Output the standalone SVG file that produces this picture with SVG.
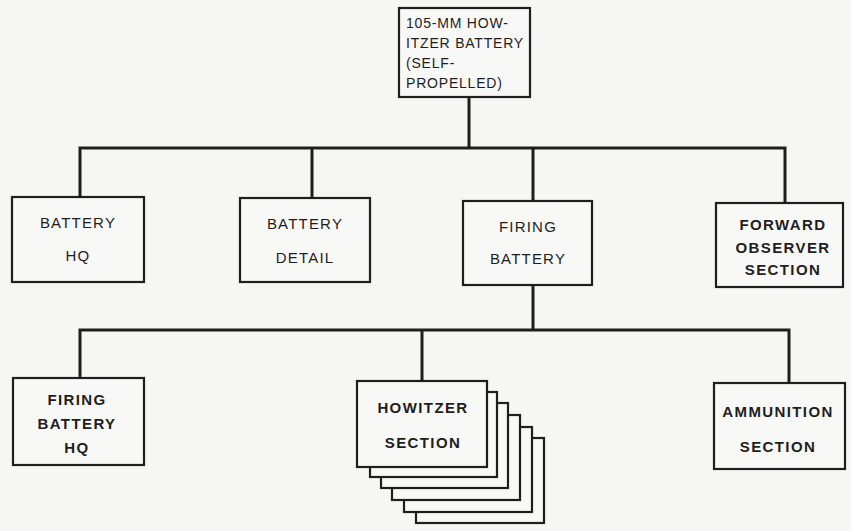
<svg xmlns="http://www.w3.org/2000/svg" width="851" height="531" viewBox="0 0 851 531">
<style>
.bg{fill:#f6f6f4}
.box{fill:#f8f8f6;stroke:#1e1e1e;stroke-width:2.2}
.ln{stroke:#1e1e1e;stroke-width:3;fill:none;stroke-linecap:square}
text{font-family:"Liberation Sans","DejaVu Sans",sans-serif;font-size:15px;fill:#1e1e1e;letter-spacing:1.2px}
.c{text-anchor:middle}
.b{font-weight:bold;letter-spacing:1.4px}
.t{font-size:14px;letter-spacing:0.8px}
</style>
<rect class="bg" x="0" y="0" width="851" height="531"/>
<g id="connectors">
<path class="ln" d="M469 97V148M80 148H785M80 148V197M312 148V198M533 148V201M785 148V203"/>
<path class="ln" d="M533 285V330M80 330H789M80 330V378M422 330V381M789 330V383"/>
</g>
<g id="battery">
<rect class="box" x="399" y="8" width="131" height="89"/>
<text class="t" x="406" y="28">105-MM HOW-</text>
<text class="t" x="406" y="48">ITZER BATTERY</text>
<text class="t" x="406" y="68">(SELF-</text>
<text class="t" x="406" y="88">PROPELLED)</text>
</g>
<g id="battery-hq">
<rect class="box" x="12" y="197" width="132" height="85"/>
<text class="c" x="78" y="228">BATTERY</text>
<text class="c" x="78" y="261">HQ</text>
</g>
<g id="battery-detail">
<rect class="box" x="240" y="198" width="130" height="84"/>
<text class="c" x="305" y="229">BATTERY</text>
<text class="c" x="305" y="263">DETAIL</text>
</g>
<g id="firing-battery">
<rect class="box" x="463" y="201" width="129" height="84"/>
<text class="c" x="528" y="232">FIRING</text>
<text class="c" x="528" y="264">BATTERY</text>
</g>
<g id="forward-observer">
<rect class="box" x="716" y="203" width="127" height="84"/>
<text class="c b" x="783" y="230">FORWARD</text>
<text class="c b" x="783" y="253">OBSERVER</text>
<text class="c b" x="783" y="275">SECTION</text>
</g>
<g id="firing-battery-hq">
<rect class="box" x="13" y="378" width="131" height="87"/>
<text class="c b" x="77" y="405">FIRING</text>
<text class="c b" x="77" y="429">BATTERY</text>
<text class="c b" x="77" y="453">HQ</text>
</g>
<g id="howitzer-section">
<rect class="box" x="416" y="438" width="128" height="85"/>
<rect class="box" x="404" y="427" width="128" height="85"/>
<rect class="box" x="392" y="415" width="128" height="85"/>
<rect class="box" x="381" y="403" width="127" height="85"/>
<rect class="box" x="370" y="392" width="127" height="85"/>
<rect class="box" x="357" y="381" width="130" height="86"/>
<text class="c b" x="423" y="413">HOWITZER</text>
<text class="c b" x="423" y="448">SECTION</text>
</g>
<g id="ammunition-section">
<rect class="box" x="714" y="383" width="131" height="86"/>
<text class="c b" x="778" y="417">AMMUNITION</text>
<text class="c b" x="778" y="452">SECTION</text>
</g>
</svg>
